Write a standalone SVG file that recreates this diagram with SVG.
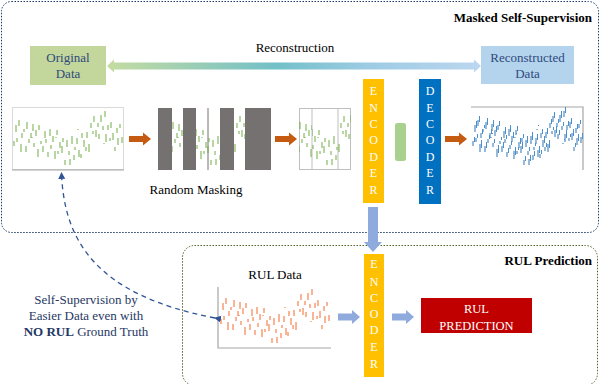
<svg xmlns="http://www.w3.org/2000/svg" xmlns:xlink="http://www.w3.org/1999/xlink" width="602" height="384" viewBox="0 0 602 384" font-family="'Liberation Serif', 'Times New Roman', 'DejaVu Serif', serif">
<style>
  text{font-family:'Liberation Serif','Times New Roman','DejaVu Serif',serif;}
  .title{font-size:13px;font-weight:bold;fill:#000;}
  .lbl{font-size:13px;fill:#000;text-anchor:middle;}
  .boxtxt{font-size:13px;fill:#2e4a7d;text-anchor:middle;}
  .letter{font-size:12px;fill:#fff;text-anchor:middle;}
  .note{font-size:13px;fill:#1f3864;text-anchor:middle;}
  .oarrow{fill:#c55a11;}
  .barrow{fill:#8faadc;}
  .axis{stroke:#a6a6a6;stroke-width:1.2;fill:none;}
  .frame{stroke:#d9d9d9;stroke-width:1;fill:#fff;}
</style>
<defs>
  <linearGradient id="recGrad" x1="107" y1="0" x2="481" y2="0" gradientUnits="userSpaceOnUse">
    <stop offset="0" stop-color="#c5dca0"/>
    <stop offset="0.45" stop-color="#72c0c8"/>
    <stop offset="0.7" stop-color="#9dcbe4"/>
    <stop offset="1" stop-color="#bcd7ef"/>
  </linearGradient>
  <marker id="dashHead" markerWidth="8" markerHeight="8" refX="6" refY="4" orient="auto" markerUnits="userSpaceOnUse">
    <path d="M0,0.5 L7,4 L0,7.5 Z" fill="#2f5597"/>
  </marker>
  <symbol id="sig" overflow="visible">
    <path fill="none" stroke="currentColor" stroke-width="1" d="M2 34v5M4 18v7M5 31v4M7 13v6M9 37v8M10 26v5M12 22v3M14 39v6M15 15v7M17 32v4M19 26v5M21 17v7M22 36v4M24 23v6M26 42v8M27 18v5M29 34v3M31 39v6M33 24v7M34 32v4M36 45v5M38 22v7M39 38v4M41 29v6M43 44v8M45 23v5M46 44v3M48 35v6M50 39v7M51 31v4M53 53v5M55 33v7M57 44v4M58 52v6M60 29v8M62 48v5M63 40v3M65 31v6M67 43v7M69 47v4M70 26v5M72 33v7M74 40v4M75 25v6M77 37v8M79 16v5M81 24v3M82 9v6M84 23v7M86 16v4M87 27v5M89 8v7M91 19v4M93 4v6M94 27v8M96 18v5M98 31v3M99 15v6M101 26v7M103 40v4M105 21v5M106 31v7M108 17v4M110 30v6M20 30v1M44 30v1M66 22v1M92 36v1"/>
  </symbol>
  <clipPath id="maskClip">
    <rect x="172" y="108" width="11" height="62"/>
    <rect x="196" y="108" width="24" height="62"/>
    <rect x="234" y="108" width="11" height="62"/>
  </clipPath>
  <clipPath id="k1"><rect x="299" y="108" width="13" height="62"/></clipPath>
  <clipPath id="k2"><rect x="312" y="108" width="26" height="62"/></clipPath>
  <clipPath id="k3"><rect x="338" y="108" width="13" height="62"/></clipPath>
</defs>

<!-- section frames -->
<g id="masked-self-supervision-frame">
  <rect x="1.5" y="1.5" width="597" height="231" rx="10" fill="none" stroke="#1f3864" stroke-width="1" stroke-dasharray="1.5 1.5"/>
  <text class="title" x="592" y="22" text-anchor="end">Masked Self-Supervision</text>
</g>
<g id="rul-prediction-frame">
  <rect x="182.5" y="245.5" width="415" height="140" rx="12" fill="none" stroke="#4f6228" stroke-width="1" stroke-dasharray="1.5 1.5"/>
  <text class="title" x="592" y="265" text-anchor="end">RUL Prediction</text>
</g>

<!-- nodes -->
<g id="original-data">
  <rect x="30" y="46" width="76" height="39" fill="#c3d69b"/>
  <text class="boxtxt" x="68" y="62">Original</text>
  <text class="boxtxt" x="68" y="78">Data</text>
</g>
<g id="reconstructed-data">
  <rect x="481" y="46" width="93" height="38" fill="#b4d3ec"/>
  <text class="boxtxt" x="527.5" y="62">Reconstructed</text>
  <text class="boxtxt" x="527.5" y="78">Data</text>
</g>

<g id="original-chart">
  <rect class="frame" x="12.5" y="107.5" width="111" height="62"/>
  <line class="axis" x1="12" y1="170" x2="124" y2="170"/>
  <use xlink:href="#sig" x="12" y="107" color="#70ad47"/>
</g>

<g id="masked-chart">
  <rect x="158" y="108" width="113" height="62" fill="#767171"/>
  <rect x="172" y="108" width="11" height="62" fill="#fff"/>
  <rect x="196" y="108" width="24" height="62" fill="#fff"/>
  <rect x="234" y="108" width="11" height="62" fill="#fff"/>
  <line x1="208" y1="108" x2="208" y2="170" stroke="#767171" stroke-width="1"/>
  <g clip-path="url(#maskClip)"><use xlink:href="#sig" x="158" y="107" color="#70ad47"/></g>
  <text class="lbl" x="196" y="194">Random Masking</text>
</g>

<g id="kept-chart">
  <rect x="299.5" y="108.5" width="51" height="61" fill="#fff" stroke="#bfbfbf" stroke-width="1"/>
  <line x1="312" y1="108" x2="312" y2="170" stroke="#bfbfbf" stroke-width="1"/>
  <line x1="338" y1="108" x2="338" y2="170" stroke="#bfbfbf" stroke-width="1"/>
  <g clip-path="url(#k1)"><use xlink:href="#sig" x="285" y="107" color="#70ad47"/></g>
  <g clip-path="url(#k2)"><use xlink:href="#sig" x="274" y="107" color="#70ad47"/></g>
  <g clip-path="url(#k3)"><use xlink:href="#sig" x="262" y="107" color="#70ad47"/></g>
</g>

<g id="encoder-top">
  <rect x="363" y="79" width="21" height="124" fill="#ffc000"/>
  <text class="letter" x="373.5" y="95">E</text>
  <text class="letter" x="373.5" y="112">N</text>
  <text class="letter" x="373.5" y="128">C</text>
  <text class="letter" x="373.5" y="144">O</text>
  <text class="letter" x="373.5" y="161">D</text>
  <text class="letter" x="373.5" y="177">E</text>
  <text class="letter" x="373.5" y="194">R</text>
</g>

<g id="latent">
  <rect x="395" y="123" width="11" height="38" rx="2.5" fill="#a9d18e"/>
</g>

<g id="decoder">
  <rect x="419" y="79" width="22" height="125" fill="#0070c0"/>
  <text class="letter" x="430" y="95">D</text>
  <text class="letter" x="430" y="112">E</text>
  <text class="letter" x="430" y="128">C</text>
  <text class="letter" x="430" y="144">O</text>
  <text class="letter" x="430" y="161">D</text>
  <text class="letter" x="430" y="177">E</text>
  <text class="letter" x="430" y="194">R</text>
</g>

<g id="reconstructed-chart">
  <polyline class="axis" points="471,107 583,107 583,170"/>
  <use xlink:href="#sig" x="471" y="107" color="#2e75b6"/>
  <use xlink:href="#sig" x="472.5" y="103" color="#4a8fd0"/>
</g>

<g id="rul-data">
  <text class="lbl" x="275" y="279">RUL Data</text>
  <polyline class="axis" points="218,287 218,348 331,348"/>
  <use xlink:href="#sig" x="219" y="285" color="#f26b2a"/>
</g>

<g id="encoder-bottom">
  <rect x="364" y="254" width="20" height="123" fill="#ffc000"/>
  <text class="letter" x="374" y="268">E</text>
  <text class="letter" x="374" y="286">N</text>
  <text class="letter" x="374" y="302">C</text>
  <text class="letter" x="374" y="318">O</text>
  <text class="letter" x="374" y="334">D</text>
  <text class="letter" x="374" y="351">E</text>
  <text class="letter" x="374" y="368">R</text>
</g>

<g id="rul-prediction">
  <rect x="421" y="298" width="111" height="35" fill="#c00000"/>
  <text class="letter" x="476.5" y="313" style="font-size:12.5px">RUL</text>
  <text class="letter" x="476.5" y="330" style="font-size:12.5px">PREDICTION</text>
</g>

<g id="note">
  <text class="note" x="86" y="304">Self-Supervision by</text>
  <text class="note" x="86" y="320">Easier Data even with</text>
  <text class="note" x="86" y="336"><tspan font-weight="bold">NO RUL</tspan> Ground Truth</text>
</g>

<!-- connectors -->
<g id="connectors">
  <polygon fill="url(#recGrad)" points="107,66 114,59.5 114,62.5 474,62.5 474,59.5 481,66 474,72.5 474,69.5 114,69.5 114,72.5"/>
  <text class="lbl" x="295" y="52">Reconstruction</text>
  <polygon class="oarrow" points="129,136 143,136 143,132.5 151,139 143,145.5 143,142 129,142"/>
  <polygon class="oarrow" points="275,136 289,136 289,132.5 297,139 289,145.5 289,142 275,142"/>
  <polygon class="oarrow" points="445,136 459,136 459,132.5 467,139 459,145.5 459,142 445,142"/>
  <polygon class="barrow" points="368,207 378,207 378,242 382,242 373,252 364,242 368,242"/>
  <polygon class="barrow" points="338,313.5 352,313.5 352,310 360,317 352,324 352,320.5 338,320.5"/>
  <polygon class="barrow" points="392,313.5 406,313.5 406,310 414,317 406,324 406,320.5 392,320.5"/>
  <path d="M215,318 C95,295 64,240 61.5,173" fill="none" stroke="#2f5597" stroke-width="1.3" stroke-dasharray="5 4" marker-start="url(#dashHead)" marker-end="url(#dashHead)"/>
</g>
</svg>
